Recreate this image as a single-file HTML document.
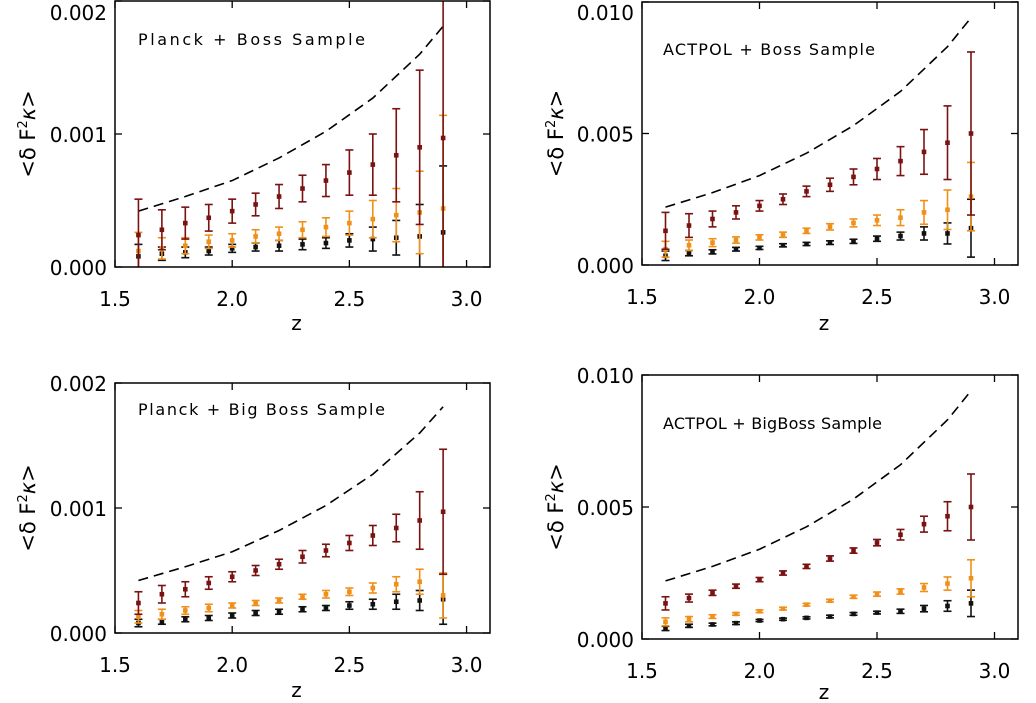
<!DOCTYPE html>
<html><head><meta charset="utf-8"><style>
html,body{margin:0;padding:0;background:#fff;}
svg{display:block;font-family:"DejaVu Sans","Liberation Sans",sans-serif;}
</style></head><body>
<svg id="chart" width="1036" height="703" viewBox="0 0 1036 703" xmlns="http://www.w3.org/2000/svg"></svg>
<script>
const zVals=[1.6,1.7,1.8,1.9,2.0,2.1,2.2,2.3,2.4,2.5,2.6,2.7,2.8,2.9];
const dashZ=[1.6,1.8,2.0,2.2,2.4,2.6,2.8,2.9];
const xTicks=[1.5,2.0,2.5,3.0];
const xTickLabels=["1.5","2.0","2.5","3.0"];
// panel A (Planck+Boss), units 1e-3
const aRed=[0.24,0.28,0.33,0.37,0.42,0.47,0.53,0.59,0.65,0.71,0.77,0.84,0.90,0.97];
const aRedErr=[0.27,0.15,0.12,0.10,0.09,0.085,0.09,0.10,0.12,0.17,0.23,0.35,0.58,1.5];
const aOra=[0.12,0.14,0.16,0.19,0.20,0.23,0.25,0.28,0.30,0.33,0.36,0.39,0.41,0.44];
const aOraErr=[0.14,0.08,0.06,0.05,0.05,0.05,0.05,0.06,0.07,0.09,0.14,0.20,0.31,0.70];
const aBlk=[0.08,0.10,0.11,0.12,0.14,0.15,0.16,0.17,0.18,0.20,0.21,0.22,0.23,0.26];
const aBlkErr=[0.09,0.05,0.04,0.03,0.03,0.03,0.04,0.04,0.04,0.05,0.09,0.13,0.24,0.50];
const aDash=[0.42,0.53,0.65,0.82,1.02,1.27,1.60,1.81];
// panel B (ACTPOL+Boss)
const bRed=[1.3,1.5,1.75,2.0,2.25,2.5,2.8,3.05,3.35,3.65,3.95,4.3,4.65,5.0];
const bRedErr=[0.7,0.45,0.3,0.25,0.2,0.2,0.2,0.25,0.3,0.4,0.55,0.85,1.4,3.1];
const bOra=[0.6,0.75,0.85,0.95,1.05,1.15,1.3,1.45,1.6,1.7,1.8,2.0,2.1,2.6];
const bOraErr=[0.3,0.2,0.15,0.12,0.1,0.1,0.1,0.12,0.15,0.2,0.3,0.45,0.75,1.3];
const bBlk=[0.35,0.45,0.5,0.6,0.65,0.75,0.8,0.85,0.9,1.0,1.1,1.2,1.2,1.4];
const bBlkErr=[0.18,0.1,0.08,0.07,0.06,0.06,0.06,0.07,0.08,0.1,0.15,0.25,0.4,1.1];
const bDash=[2.2,2.75,3.4,4.25,5.3,6.6,8.3,9.4];
// panel C (Planck+Big Boss)
const cRed=[0.24,0.31,0.35,0.40,0.45,0.50,0.55,0.61,0.66,0.72,0.78,0.84,0.90,0.97];
const cRedErr=[0.09,0.07,0.06,0.05,0.04,0.04,0.04,0.05,0.05,0.06,0.08,0.11,0.23,0.5];
const cOra=[0.13,0.15,0.18,0.20,0.22,0.24,0.26,0.29,0.31,0.33,0.36,0.39,0.41,0.30];
const cOraErr=[0.05,0.04,0.03,0.03,0.02,0.02,0.02,0.02,0.03,0.03,0.04,0.06,0.1,0.18];
const cBlk=[0.08,0.09,0.11,0.12,0.14,0.16,0.17,0.19,0.20,0.22,0.23,0.25,0.26,0.27];
const cBlkErr=[0.03,0.02,0.02,0.02,0.02,0.02,0.02,0.02,0.02,0.03,0.04,0.06,0.08,0.2];
const cDash=[0.42,0.53,0.65,0.82,1.02,1.27,1.60,1.81];
// panel D (ACTPOL+BigBoss)
const dRed=[1.35,1.55,1.75,2.0,2.25,2.5,2.75,3.05,3.35,3.65,3.95,4.35,4.65,5.0];
const dRedErr=[0.25,0.15,0.1,0.08,0.08,0.08,0.08,0.1,0.1,0.12,0.2,0.3,0.55,1.25];
const dOra=[0.65,0.75,0.85,0.95,1.05,1.15,1.3,1.45,1.6,1.7,1.8,1.95,2.1,2.3];
const dOraErr=[0.15,0.1,0.07,0.05,0.05,0.05,0.05,0.05,0.06,0.08,0.1,0.15,0.25,0.7];
const dBlk=[0.4,0.5,0.55,0.6,0.7,0.75,0.8,0.85,0.95,1.0,1.05,1.15,1.25,1.35];
const dBlkErr=[0.08,0.06,0.05,0.05,0.04,0.04,0.04,0.05,0.05,0.05,0.08,0.12,0.2,0.5];
const dDash=[2.2,2.75,3.4,4.25,5.3,6.6,8.3,9.4];

const svg=document.getElementById('chart');
const NS='http://www.w3.org/2000/svg';
function mk(tag,attrs,parent){const e=document.createElementNS(NS,tag);for(const k in attrs)e.setAttribute(k,attrs[k]);(parent||svg).appendChild(e);return e;}

const panels=[
 {id:'planck-boss',title:'Planck + Boss Sample',tw:227,L:115,R:490,T:1,B:267,ymax:2,yTicks:[0,1,2],yLab:['0.000','0.001','0.002'],tx:138,ty:45,zy:330,red:aRed,redE:aRedErr,ora:aOra,oraE:aOraErr,blk:aBlk,blkE:aBlkErr,dash:aDash,ax:28},
 {id:'actpol-boss',title:'ACTPOL + Boss Sample',tw:212,L:642,R:1018,T:2,B:265,ymax:10,yTicks:[0,5,10],yLab:['0.000','0.005','0.010'],tx:663,ty:55,zy:330,red:bRed,redE:bRedErr,ora:bOra,oraE:bOraErr,blk:bBlk,blkE:bBlkErr,dash:bDash,ax:556},
 {id:'planck-bigboss',title:'Planck + Big Boss Sample',tw:247,L:115,R:490,T:383,B:633,ymax:2,yTicks:[0,1,2],yLab:['0.000','0.001','0.002'],tx:138,ty:415,zy:697,red:cRed,redE:cRedErr,ora:cOra,oraE:cOraErr,blk:cBlk,blkE:cBlkErr,dash:cDash,ax:28},
 {id:'actpol-bigboss',title:'ACTPOL + BigBoss Sample',tw:219,L:642,R:1018,T:375,B:639,ymax:10,yTicks:[0,5,10],yLab:['0.000','0.005','0.010'],tx:663,ty:429,zy:699,red:dRed,redE:dRedErr,ora:dOra,oraE:dOraErr,blk:dBlk,blkE:dBlkErr,dash:dDash,ax:556}
];

panels.forEach(p=>{
 const g=mk('g',{});
 
 
 const xs=z=>p.L+(z-1.5)/(3.1-1.5)*(p.R-p.L);
 const ys=v=>p.B-Math.max(Math.min(v,p.ymax*1.2),-0.1)/p.ymax*(p.B-p.T);
 const clip='clip-'+p.id;
 const cp=mk('clipPath',{id:clip},g);mk('rect',{x:p.L,y:p.T,width:p.R-p.L,height:p.B-p.T},cp);
 const pl=mk('polyline',{points:dashZ.map((z,i)=>xs(z)+','+ys(p.dash[i])).join(' '),fill:'none',stroke:'#000','stroke-width':1.6,'stroke-dasharray':'10,6'},g);
 
 
 const series=[['black',p.blk,p.blkE,'#111'],['orange',p.ora,p.oraE,'#f0901a'],['red',p.red,p.redE,'#7a1212']];
 series.forEach(s=>{
  const sg=mk('g',{'clip-path':'url(#'+clip+')'},g);
  
  
  zVals.forEach((z,i)=>{
   const x=xs(z),y=ys(s[1][i]),y1=ys(s[1][i]+s[2][i]),y2=ys(s[1][i]-s[2][i]);
   mk('line',{x1:x,x2:x,y1:y1,y2:y2,stroke:s[3],'stroke-width':1.6},sg);
   mk('line',{x1:x-4,x2:x+4,y1:y1,y2:y1,stroke:s[3],'stroke-width':1.6},sg);
   mk('line',{x1:x-4,x2:x+4,y1:y2,y2:y2,stroke:s[3],'stroke-width':1.6},sg);
   const r=mk('rect',{x:x-2.3,y:y-2.3,width:4.6,height:4.6,fill:s[3]},sg);
   
   
  });
 });
 const fr=mk('rect',{x:p.L,y:p.T,width:p.R-p.L,height:p.B-p.T,fill:'none',stroke:'#000','stroke-width':1.5},g);
 
 
 xTicks.forEach((t,i)=>{
  const x=xs(t);
  mk('line',{x1:x,x2:x,y1:p.B,y2:p.B-7,stroke:'#000','stroke-width':1.3},g);
  mk('line',{x1:x,x2:x,y1:p.T,y2:p.T+7,stroke:'#000','stroke-width':1.3},g);
  const tl=mk('text',{x:x,y:p.B+39,'text-anchor':'middle','font-size':20},g);tl.textContent=xTickLabels[i];
  
  
 });
 p.yTicks.forEach((t,i)=>{
  const y=ys(t);
  mk('line',{x1:p.L,x2:p.L+7,y1:y,y2:y,stroke:'#000','stroke-width':1.3},g);
  mk('line',{x1:p.R,x2:p.R-7,y1:y,y2:y,stroke:'#000','stroke-width':1.3},g);
  const tl=mk('text',{x:p.L-8,y:Math.max(y+8,20),'text-anchor':'end','font-size':20},g);tl.textContent=p.yLab[i];
  
  
 });
 const zt=mk('text',{x:(xs(1.5)+xs(3.1))/2-6,y:p.zy,'text-anchor':'middle','font-size':20},g);zt.textContent='z';
 
 
 const cy=(p.T+p.B)/2;
 const yt=mk('text',{x:0,y:0,'text-anchor':'middle','font-size':21,transform:'translate('+(p.ax+7)+','+cy+') rotate(-90)'},g);
 yt.innerHTML='&lt;δ  F<tspan dy="-8" font-size="13">2</tspan><tspan dy="8" font-style="italic">κ</tspan>&gt;';
 
 
 const ti=mk('text',{x:p.tx,y:p.ty,'font-size':16,textLength:p.tw,lengthAdjust:'spacing'},g);ti.textContent=p.title;
 
 
});
</script>
</body></html>
